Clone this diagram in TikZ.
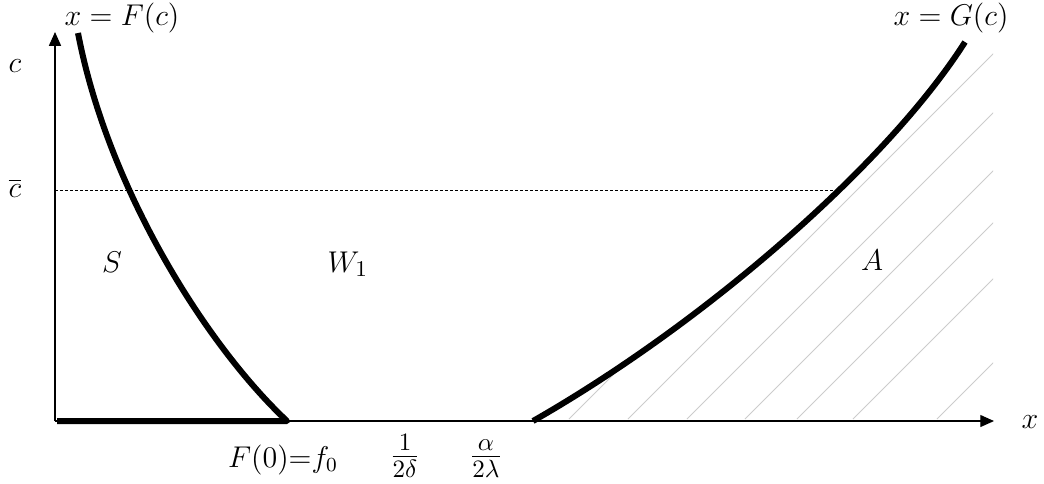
\documentclass[tikz,border=0pt]{standalone}
\usetikzlibrary{arrows.meta}
\begin{document}
\begin{tikzpicture}[x=0.4pt,y=-0.4pt,font=\large,
  thickcurve/.style={line width=2.4pt,line join=round},
  axisline/.style={line width=0.5pt,-{Triangle[length=5.5pt,width=4.8pt]}},
  hatchline/.style={gray!40,line width=0.4pt},
  dotline/.style={line width=0.4pt,dash pattern=on 1pt off 1pt},
  lbl/.style={anchor=base,inner sep=0pt},
  reglbl/.style={anchor=base,inner sep=0pt,font=\fontsize{13}{15}\selectfont},
  fraclbl/.style={anchor=base,inner sep=0pt,font=\Large}]
\useasboundingbox (0,0) rectangle (1044,483);
% curve end points
\coordinate (F0) at (287,421);
\coordinate (Ftop) at (78,33);
\coordinate (G0) at (533,421);
\coordinate (Gtop) at (965,42);
% hatching
\begin{scope}
\clip (G0) .. controls (706.6,321.8) and (888,163) .. (Gtop) -- (993,42) -- (993,420) -- cycle;
\foreach \b in {569,628,687,745,797,853,937} \draw[hatchline] (\b,419) -- ++(450,-450);
\end{scope}
% axes
\coordinate (O) at (55,421);
\coordinate (Yend) at (55,32);
\coordinate (Xend) at (994,421);
\draw[axisline] (O) -- (Yend);
\draw[axisline] (O) -- (Xend);
% dotted c-bar line
\coordinate (cb0) at (55,190);
\coordinate (cb1) at (838,190);
\draw[dotline] (cb0) -- (cb1);
% curves
\coordinate (S0) at (57,421);
\draw[thickcurve] (S0) -- (F0) .. controls (207,346) and (108,189.7) .. (Ftop);
\draw[thickcurve] (G0) .. controls (706.6,321.8) and (888,163) .. (Gtop);
% labels
\node[lbl] (lF) at (122,25) {$x=F(c)$};
\node[lbl] (lG) at (951,25) {$x=G(c)$};
\node[lbl] (lc) at (15,72) {$c$};
\node[lbl] (lcb) at (15,197) {$\overline{c}$};
\node[reglbl] (lS) at (112,272) {$S$};
\node[reglbl] (lW) at (348,272) {$W_1$};
\node[lbl] (lA) at (872,270) {$A$};
\node[lbl] (lx) at (1030,428) {$x$};
\node[lbl] (lf0) at (283,467) {$F(0){=}f_0$};
\node[fraclbl] (ld) at (405,465) {$\frac{1}{2\delta}$};
\node[fraclbl] (ll) at (486,465) {$\frac{\alpha}{2\lambda}$};
\end{tikzpicture}
\end{document}
